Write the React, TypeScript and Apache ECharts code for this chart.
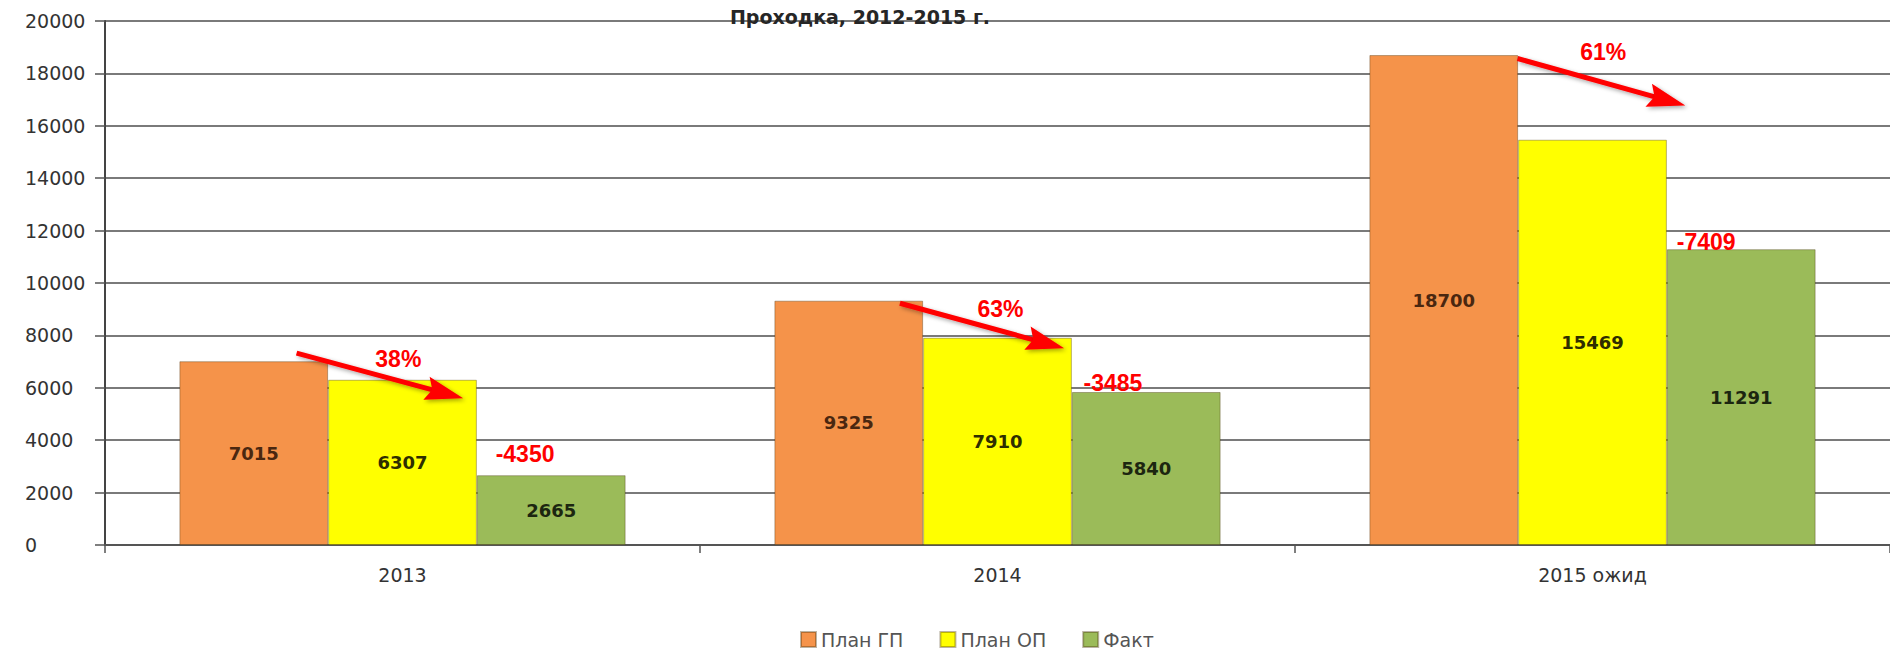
import React, { useEffect, useRef } from "react";
import * as echarts from "echarts";

const TITLE = "Проходка, 2012-2015 г.";
const categories = ["2013", "2014", "2015 ожид"];
const seriesNames = ["План ГП", "План ОП", "Факт"];
const planGP = [7015, 9325, 18700];
const planOP = [6307, 7910, 15469];
const fact = [2665, 5840, 11291];
const pctLabels = ["38%", "63%", "61%"];
const yTicks = { min: 0, max: 20000, interval: 2000 };

// annotation anchors: [offset within category (fraction of band), value]
const arrowStart = [[-0.178, 7321], [-0.164, 9227], [-0.126, 18569]];
const arrowEnd = [[0.102, 5605], [0.112, 7512], [0.156, 16777]];
const pctAnchor = [[-0.007, 7092], [0.005, 8999], [0.018, 18798]];
const diffAnchor = [[0.206, 3470], [0.194, 6177], [0.191, 11553]];

const FONT = "DejaVu Sans";
const RED_FONT = "Liberation Sans";

export default function App() {
  const ref = useRef<HTMLDivElement>(null);
  useEffect(() => {
    if (!ref.current) return;
    const chart = echarts.init(ref.current, undefined, { renderer: "svg" });
    const colors = ["#F5934A", "#FFFF00", "#9BBB59"];
    const labelColors = ["#4a2710", "#2e2e00", "#1c2610"];
    const values = [planGP, planOP, fact];
    const barSeries = seriesNames.map((name, k) => ({
      name,
      type: "bar",
      data: values[k],
      barGap: "0%",
      barCategoryGap: "25%",
      itemStyle: {
        color: colors[k],
        borderColor: "rgba(60,40,0,0.35)",
        borderWidth: 1,
      },
      label: {
        show: true,
        position: "inside",
        color: labelColors[k],
        fontFamily: FONT,
        fontWeight: "bold",
        fontSize: 18,
      },
    }));

    const annotation = {
      type: "custom",
      silent: true,
      z: 10,
      clip: false,
      data: categories.map((_, i) => [i, 0]),
      encode: { x: 0, y: 1 },
      renderItem: (params: any, api: any) => {
        const i = params.dataIndex;
        const bw = api.size([1, 0])[0];
        const c = api.coord([i, 0])[0];
        const p = (a: number[]) => [c + a[0] * bw, api.coord([i, a[1]])[1]];
        const s = p(arrowStart[i]);
        const e = p(arrowEnd[i]);
        const ang = Math.atan2(e[1] - s[1], e[0] - s[0]);
        const L = 32;
        const W = 12;
        const bx = e[0] - L * Math.cos(ang);
        const by = e[1] - L * Math.sin(ang);
        const nx = -Math.sin(ang);
        const ny = Math.cos(ang);
        const pa = p(pctAnchor[i]);
        const da = p(diffAnchor[i]);
        const shadow = {
          shadowBlur: 4,
          shadowColor: "rgba(0,0,0,0.35)",
          shadowOffsetX: 2,
          shadowOffsetY: 2,
        };
        return {
          type: "group",
          children: [
            {
              type: "line",
              shape: { x1: s[0], y1: s[1], x2: bx + 4 * Math.cos(ang), y2: by + 4 * Math.sin(ang) },
              style: { stroke: "#FF0000", lineWidth: 5, ...shadow },
            },
            {
              type: "polygon",
              shape: {
                points: [
                  [e[0], e[1]],
                  [bx + nx * W - 6 * Math.cos(ang), by + ny * W - 6 * Math.sin(ang)],
                  [bx, by],
                  [bx - nx * W - 6 * Math.cos(ang), by - ny * W - 6 * Math.sin(ang)],
                ],
              },
              style: { fill: "#FF0000", ...shadow },
            },
            {
              type: "text",
              x: pa[0],
              y: pa[1],
              style: {
                text: pctLabels[i],
                fill: "#FF0000",
                font: `bold 23px "${RED_FONT}"`,
                align: "center",
                verticalAlign: "middle",
              },
            },
            {
              type: "text",
              x: da[0],
              y: da[1],
              style: {
                text: String(fact[i] - planGP[i]),
                fill: "#FF0000",
                font: `bold 23px "${RED_FONT}"`,
                align: "center",
                verticalAlign: "middle",
              },
            },
          ],
        };
      },
    };

    chart.setOption({
      animation: false,
      backgroundColor: "#ffffff",
      title: {
        text: TITLE,
        left: 855,
        top: 2,
        textAlign: "center",
        textStyle: { fontFamily: FONT, fontWeight: "bold", fontSize: 19, color: "#262626" },
      },
      legend: {
        data: seriesNames,
        left: 795,
        top: 625,
        icon: "rect",
        itemWidth: 15,
        itemHeight: 15,
        itemGap: 36,
        textStyle: { fontFamily: FONT, fontSize: 19, color: "#555555" },
      },
      grid: { left: 105, top: 21, bottom: 104, width: 1791, containLabel: false },
      xAxis: {
        type: "category",
        data: categories,
        axisLine: { lineStyle: { color: "#555555", width: 2 } },
        axisTick: { show: true, length: 8, lineStyle: { color: "#555555", width: 1.5 } },
        axisLabel: { margin: 20, fontFamily: FONT, fontSize: 19, color: "#333333" },
      },
      yAxis: {
        type: "value",
        min: yTicks.min,
        max: yTicks.max,
        interval: yTicks.interval,
        axisLine: { show: true, lineStyle: { color: "#444444", width: 2 } },
        axisTick: { show: true, length: 10, lineStyle: { color: "#555555", width: 1.5 } },
        axisLabel: {
          margin: 80,
          align: "left",
          fontFamily: FONT,
          fontSize: 19,
          color: "#333333",
          formatter: (v: number) => String(v),
        },
        splitLine: { show: true, lineStyle: { color: "#7a7a7a", width: 2 } },
      },
      series: [...barSeries, annotation],
    });
    return () => chart.dispose();
  }, []);
  return (
    <div
      ref={ref}
      style={{ position: "fixed", left: 0, top: 0, width: 1890, height: 649 }}
    />
  );
}
